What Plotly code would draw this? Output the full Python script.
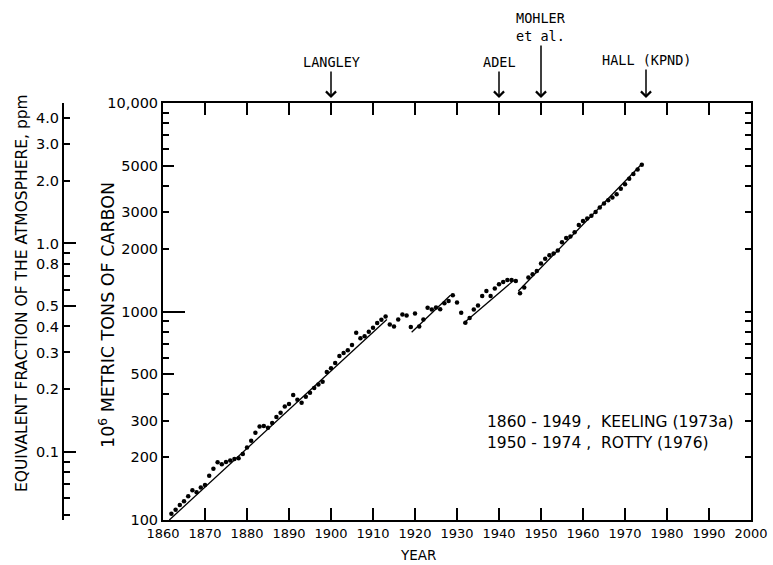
import math
import plotly.graph_objects as go

# ---------------- data ----------------
years = list(range(1862, 1975))
carbon = [
    107, 112, 118, 123, 130, 139, 136, 143, 147, 163,      # 1862-1871
    176, 189, 185, 190, 193, 196, 198, 207, 223, 240,      # 1872-1881
    262, 281, 282, 277, 292, 312, 327, 350, 360, 398,      # 1882-1891
    377, 365, 390, 408, 430, 446, 460, 512, 535, 566,      # 1892-1901
    612, 632, 652, 690, 790, 745, 760, 800, 835, 880,      # 1902-1911
    912, 946, 866, 848, 915, 967, 958, 843, 978, 848,      # 1912-1921
    915, 1042, 1023, 1044, 1025, 1094, 1124, 1195, 1103, 986,   # 1922-1931
    883, 932, 1023, 1069, 1187, 1254, 1187, 1289, 1350, 1385,   # 1932-1941
    1416, 1416, 1400, 1223, 1303, 1455, 1509, 1566, 1700, 1790,  # 1942-1951
    1860, 1900, 1960, 2150, 2250, 2290, 2400, 2600, 2720, 2790,  # 1952-1961
    2880, 3000, 3150, 3300, 3420, 3520, 3650, 3880, 4080, 4330,  # 1962-1971
    4560, 4800, 5050,                                             # 1972-1974
]

# straight trend segments (start/end year and value)
seg_start_year = [1861.5, 1919.2, 1931.5, 1944.6]
seg_start_val = [100, 795, 876, 1254]
seg_end_year = [1913.3, 1928.5, 1943.5, 1974.0]
seg_end_val = [916, 1200, 1410, 5100]

x_ticks = list(range(1860, 2001, 10))
main_tick_vals = [100, 200, 300, 500, 1000, 2000, 3000, 5000, 10000]
main_tick_text = ["100", "200", "300", "500", "1000", "2000", "3000", "5000", "10,000"]
main_minor = [400, 600, 700, 800, 900, 4000, 6000, 7000, 8000, 9000]
main_long = [1000]
main_mid = [500, 5000]

ppm_tick_vals = [4, 3, 2, 1, 0.8, 0.5, 0.4, 0.3, 0.2, 0.1]
ppm_tick_text = ["4.0", "3.0", "2.0", "1.0", "0.8", "0.5", "0.4", "0.3", "0.2", "0.1"]
ppm_minor = [0.9, 0.7, 0.6, 0.09, 0.08, 0.07, 0.06, 0.05]
ppm_long = [1, 0.5, 0.1]
MTC_PER_PPM = 2120  # 10^6 t carbon per ppm

event_years = [1900, 1940, 1950, 1975]
event_labels = ["LANGLEY", "ADEL", "MOHLER<br>et al.", "HALL (KPND)"]
event_offsets = [-41, -41, -76, -43]

legend_lines = ["1860 - 1949 ,  KEELING (1973a)", "1950 - 1974 ,  ROTTY (1976)"]

# ---------------- figure ----------------
W, H = 773, 565
ML, MR, MT, MB = 20, 22, 103, 45
pw = W - ML - MR
ph = H - MT - MB
x_dom0 = (163 - ML) / pw

seg_x, seg_y = [], []
for a, b, c, d in zip(seg_start_year, seg_start_val, seg_end_year, seg_end_val):
    seg_x += [a, c, None]
    seg_y += [b, d, None]

fig = go.Figure()
fig.add_trace(go.Scatter(x=seg_x, y=seg_y, mode="lines",
                         line=dict(color="black", width=1.3),
                         hoverinfo="skip", showlegend=False))
fig.add_trace(go.Scatter(x=years, y=carbon, mode="markers",
                         marker=dict(color="black", size=4.5),
                         showlegend=False))
# invisible helpers so the overlay axes get drawn
for ya in ["y2", "y3", "y4", "y5"]:
    fig.add_trace(go.Scatter(x=[None], y=[None], yaxis=ya, showlegend=False,
                             hoverinfo="skip"))

xfont = dict(family="DejaVu Sans", size=13, color="black")
yfont = dict(family="DejaVu Sans", size=14.5, color="black")
main_range = [2, 4]
ppm_range = [math.log10(100 / MTC_PER_PPM), math.log10(10000 / MTC_PER_PPM)]
ppm_pos = (63 - ML) / pw

common = dict(showgrid=False, zeroline=False, automargin=False)

fig.update_layout(
    width=W, height=H,
    margin=dict(l=ML, r=MR, t=MT, b=MB, autoexpand=False),
    paper_bgcolor="white", plot_bgcolor="white",
    showlegend=False,
    xaxis=dict(domain=[x_dom0, 1], range=[1860, 2000], tickvals=x_ticks,
               ticks="inside", ticklen=12, tickwidth=1.5, tickcolor="black",
               showline=True, linewidth=2, linecolor="black", mirror="ticks",
               tickfont=xfont, **common),
    yaxis=dict(type="log", range=main_range, tickvals=main_tick_vals,
               ticktext=main_tick_text, ticks="inside", ticklen=6, tickwidth=1.5,
               tickcolor="black",
               minor=dict(tickvals=main_minor, ticks="inside", ticklen=6,
                          tickwidth=1.5, tickcolor="black", showgrid=False),
               showline=True, linewidth=2, linecolor="black", mirror="ticks",
               tickfont=yfont, **common),
    yaxis3=dict(type="log", range=main_range, overlaying="y", anchor="x",
                side="left", tickvals=main_long, ticks="inside", ticklen=22,
                tickwidth=1.5, tickcolor="black", showticklabels=False,
                showline=False, **common),
    yaxis4=dict(type="log", range=main_range, overlaying="y", anchor="x",
                side="left", tickvals=main_mid, ticks="inside", ticklen=11,
                tickwidth=1.5, tickcolor="black", showticklabels=False,
                showline=False, **common),
    yaxis2=dict(type="log", range=ppm_range, overlaying="y", anchor="free",
                position=ppm_pos, side="left", tickvals=ppm_tick_vals,
                ticktext=ppm_tick_text, ticks="inside", ticklen=6, tickwidth=1.5,
                tickcolor="black",
                minor=dict(tickvals=ppm_minor, ticks="inside", ticklen=6,
                           tickwidth=1.5, tickcolor="black", showgrid=False),
                showline=True, linewidth=2, linecolor="black",
                tickfont=yfont, **common),
    yaxis5=dict(type="log", range=ppm_range, overlaying="y", anchor="free",
                position=ppm_pos, side="left", tickvals=ppm_long, ticks="inside",
                ticklen=12, tickwidth=1.5, tickcolor="black",
                showticklabels=False, showline=False, **common),
)

ann = []
# axis titles
ann.append(dict(text="10<sup>6</sup> METRIC TONS OF CARBON", textangle=-90,
                xref="paper", yref="paper", x=(107 - ML) / pw, y=(H - MB - 315) / ph,
                xanchor="center", yanchor="middle", showarrow=False,
                font=dict(family="DejaVu Sans", size=17.5, color="black")))
ann.append(dict(text="EQUIVALENT FRACTION OF THE ATMOSPHERE, ppm", textangle=-90,
                xref="paper", yref="paper", x=(22 - ML) / pw, y=(H - MB - 293) / ph,
                xanchor="center", yanchor="middle", showarrow=False,
                font=dict(family="DejaVu Sans", size=15.5, color="black")))
ann.append(dict(text="YEAR", xref="paper", yref="paper", x=(418 - ML) / pw,
                y=(H - MB - 555) / ph, xanchor="center", yanchor="middle",
                showarrow=False,
                font=dict(family="DejaVu Sans", size=13.5, color="black")))
# source legend
for txt, yc in zip(legend_lines, [422, 443]):
    ann.append(dict(text=txt, xref="paper", yref="paper", x=(485 - ML) / pw,
                    y=(H - MB - yc) / ph, xanchor="left", yanchor="middle",
                    showarrow=False,
                    font=dict(family="DejaVu Sans", size=15.5, color="black")))
# event arrows
for yr, lab, off in zip(event_years, event_labels, event_offsets):
    ann.append(dict(text=lab, x=yr, xref="x", y=1, yref="paper",
                    showarrow=True, ax=0, ay=off, arrowhead=4, arrowsize=1.3,
                    arrowwidth=1.5, arrowcolor="black", standoff=5,
                    font=dict(family="DejaVu Sans Mono", size=13.5, color="black")))
fig.update_layout(annotations=ann)

fig.write_html("out.html")
